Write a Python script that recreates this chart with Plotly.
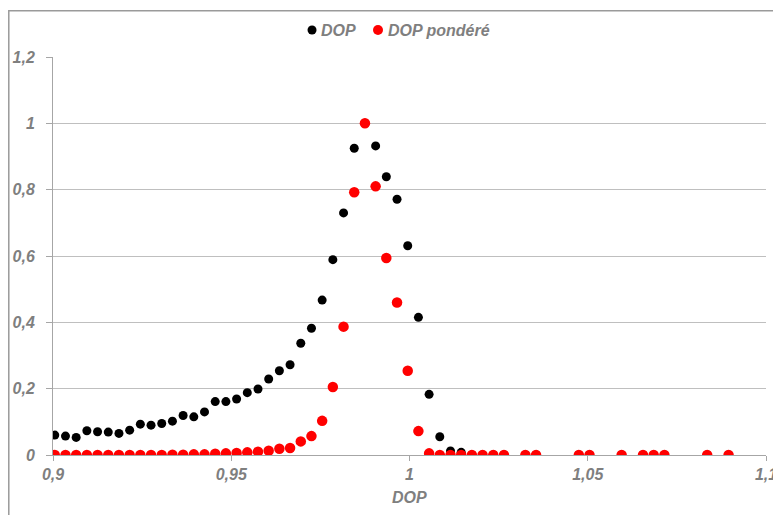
import plotly.graph_objects as go

# bin positions (DOP)
x_vals = [0.9005 + 0.003 * i for i in list(range(0, 43)) + [44, 45, 49, 50, 53, 55, 56, 57, 61, 63]]

dop = [0.060, 0.057, 0.053, 0.073, 0.070, 0.069, 0.065, 0.075, 0.093, 0.090,
       0.095, 0.102, 0.119, 0.115, 0.130, 0.161, 0.161, 0.169, 0.188, 0.199,
       0.229, 0.254, 0.272, 0.337, 0.382, 0.467, 0.589, 0.730, 0.925, 1.0,
       0.932, 0.839, 0.771, 0.631, 0.415, 0.183, 0.055, 0.012, 0.008, 0.0,
       0.0, 0.0, 0.0, 0.0, 0.0, 0.0, 0.0, 0.0, 0.0, 0.0, 0.0, 0.0, 0.0]

dop_pondere = [0.0, 0.0, 0.0, 0.0, 0.0, 0.0, 0.0, 0.0, 0.0, 0.0,
               0.0, 0.001, 0.001, 0.002, 0.002, 0.004, 0.005, 0.006, 0.008, 0.010,
               0.013, 0.019, 0.021, 0.041, 0.057, 0.103, 0.205, 0.387, 0.792, 1.0,
               0.810, 0.594, 0.460, 0.254, 0.072, 0.005, 0.0, 0.0, 0.0, 0.0,
               0.0, 0.0, 0.0, 0.0, 0.0, 0.0, 0.0, 0.0, 0.0, 0.0, 0.0, 0.0, 0.0]

series_names = ["DOP", "DOP pondéré"]
series_colors = ["#000000", "#ff0000"]

x_ticks = [0.9, 0.95, 1.0, 1.05, 1.1]
x_labels = ["0,9", "0,95", "1", "1,05", "1,1"]
y_ticks = [0, 0.2, 0.4, 0.6, 0.8, 1.0, 1.2]
y_labels = ["0", "0,2", "0,4", "0,6", "0,8", "1", "1,2"]

font_fam = "Liberation Sans, Arial, sans-serif"
gray = "#7f7f7f"

def bi(s):
    return "<b><i>" + s + "</i></b>"

fig = go.Figure()
fig.add_trace(go.Scatter(x=x_vals, y=dop, mode="markers", name=series_names[0],
                         marker=dict(color=series_colors[0], size=9)))
fig.add_trace(go.Scatter(x=x_vals, y=dop_pondere, mode="markers", name=series_names[1],
                         marker=dict(color=series_colors[1], size=10.5)))

# hand-placed legend (marker circles + labels)
leg_y = 1.0678
leg_items = [(0.3633, 0.3745, 9), (0.4558, 0.4684, 10)]
shapes = []
annotations = []
for (mx, tx, d), name, col in zip(leg_items, series_names, series_colors):
    shapes.append(dict(type="circle", xref="paper", yref="paper", xsizemode="pixel", ysizemode="pixel",
                       xanchor=mx, yanchor=leg_y, x0=-d / 2, x1=d / 2, y0=-d / 2, y1=d / 2,
                       fillcolor=col, line=dict(width=0)))
    annotations.append(dict(text=bi(name), xref="paper", yref="paper", x=tx, y=leg_y,
                            xanchor="left", yanchor="middle", showarrow=False, borderpad=0,
                            font=dict(size=16, color=gray)))

annotations.append(dict(text=bi("DOP"), xref="paper", yref="paper", x=0.5, y=-0.1066,
                        xanchor="center", yanchor="middle", showarrow=False,
                        font=dict(size=16, color=gray)))

# chart frame (top and left edges visible in the window)
shapes += [
    dict(type="rect", xref="paper", yref="paper", x0=-0.062, x1=1.05, y0=-0.2, y1=1.116,
         line=dict(color="#9a9a9a", width=1.5), fillcolor="rgba(0,0,0,0)", layer="below"),
]

# page body has an 8px margin, so the figure is offset by 8px in the window
fig.update_layout(
    width=773, height=507,
    margin=dict(l=45, r=15, t=49, b=59.5, autoexpand=False),
    paper_bgcolor="white", plot_bgcolor="rgba(0,0,0,0)",
    font=dict(family=font_fam, color=gray, size=16),
    showlegend=False,
    xaxis=dict(range=[0.9, 1.1], tickvals=x_ticks, ticktext=[bi(t) for t in x_labels],
               showgrid=False, zeroline=False, showline=True, linecolor="#a6a6a6", linewidth=1,
               ticks="outside", ticklen=5, tickcolor="#a6a6a6", automargin=False,
               tickfont=dict(size=16, color=gray)),
    yaxis=dict(range=[0, 1.2], tickvals=y_ticks, ticktext=[bi(t) for t in y_labels],
               showgrid=True, gridcolor="#bfbfbf", gridwidth=1, zeroline=False,
               showline=True, linecolor="#a6a6a6", linewidth=1,
               ticks="outside", ticklen=6, tickcolor="#a6a6a6", automargin=False,
               tickfont=dict(size=16, color=gray), ticklabelstandoff=8),
    annotations=annotations,
    shapes=shapes,
)

fig.write_html("out.html")
